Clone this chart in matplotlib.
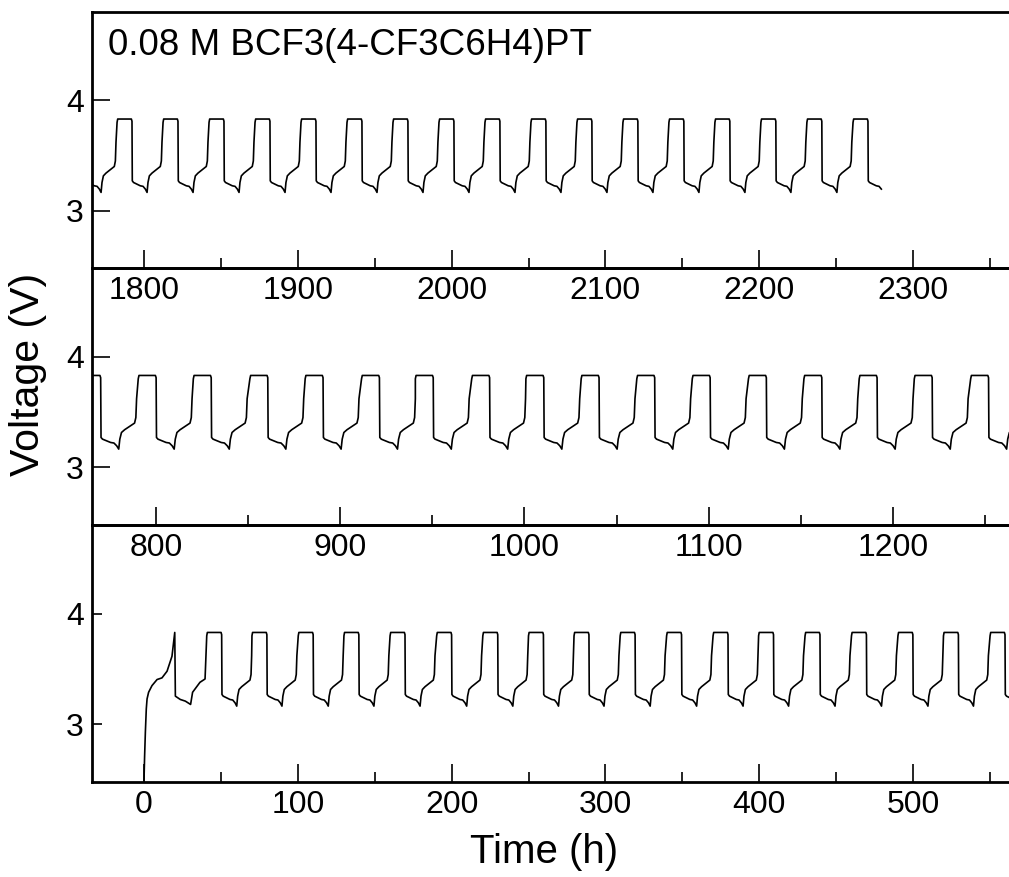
import matplotlib.pyplot as plt
import numpy as np
from matplotlib.ticker import MultipleLocator

plt.rcParams['font.family'] = ['Liberation Sans', 'DejaVu Sans']

# one charge/discharge cycle, hours after the voltage reaches the ~3.8 V plateau
cycle_dt = [0.0, 0.4, 9.3, 9.7, 9.9, 10.7, 12.9, 15.1, 16.9, 18.4, 19.5,
            20.1, 21.0, 22.7, 26.0, 28.1, 28.8, 29.2]
cycle_v = [3.80, 3.83, 3.83, 3.81, 3.27, 3.255, 3.24, 3.225, 3.22, 3.195, 3.165,
           3.255, 3.315, 3.34, 3.376, 3.40, 3.45, 3.62]

# first charge from 0 h (bottom panel)
first_t = [0.0, 0.4, 0.9, 1.5, 2.0, 3.0, 5.2, 8.5, 11.7, 15.0, 18.2, 20.0,
           20.4, 23.6, 26.9, 30.3, 31.6, 36.4, 39.7]
first_v = [2.49, 2.71, 2.93, 3.14, 3.23, 3.29, 3.35, 3.405, 3.42, 3.48, 3.615, 3.83,
           3.255, 3.225, 3.21, 3.18, 3.29, 3.38, 3.41]

# times (h) where each cycle reaches the plateau, per panel
bottom_starts = [40.8, 70.2, 100.3, 130.0, 160.0, 190.3, 220.3, 250.0, 279.6,
                 309.6, 339.8, 370.0, 399.6, 429.8, 460.0, 490.2, 519.8, 550.1]
middle_starts = [760.3, 790.4, 820.3, 851.0, 881.0, 911.6, 940.8, 971.4, 1000.8,
                 1030.8, 1061.0, 1091.1, 1121.6, 1151.7, 1181.7, 1211.6, 1242.2]
top_starts = [1752.6, 1782.5, 1812.4, 1842.3, 1872.2, 1902.1, 1932.0, 1961.9,
              1991.8, 2021.7, 2051.6, 2081.5, 2111.4, 2141.3, 2171.2, 2201.1,
              2231.0, 2261.0]
top_end = 2279.5

bottom_ticks = [0, 100, 200, 300, 400, 500]
middle_ticks = [800, 900, 1000, 1100, 1200]
top_ticks = [1800, 1900, 2000, 2100, 2200, 2300]

title = '0.08 M BCF3(4-CF3C6H4)PT'


def build(starts, head_t=None, head_v=None, end=None):
    t = list(head_t) if head_t else []
    v = list(head_v) if head_v else []
    for s in starts:
        t.extend(s + np.array(cycle_dt))
        v.extend(cycle_v)
    t = np.array(t)
    v = np.array(v)
    if end is not None:
        keep = t <= end
        t, v = t[keep], v[keep]
    return t, v


fig = plt.figure(figsize=(10.09, 8.77), dpi=100)

left = 92 / 1009
width = 1 - left
H = 877
panels = [
    # (top px, bottom px, xlim, ticks, data, ytick length)
    (12, 268, (1766.2, 2362.4), top_ticks, build(top_starts, end=top_end), 13),
    (268, 525, (765.3, 1263.0), middle_ticks, build(middle_starts), 13),
    (525, 782, (-33.8, 562.4), bottom_ticks, build(bottom_starts, first_t, first_v), 7),
]

axes = []
for top_px, bot_px, xlim, ticks, (t, v), ylen in panels:
    ax = fig.add_axes([left, 1 - bot_px / H, width, (bot_px - top_px) / H])
    ax.patch.set_visible(False)
    ax.plot(t, v, color='black', lw=1.2)
    ax.set_xlim(*xlim)
    ax.set_ylim(2.48, 4.8)
    ax.set_xticks(ticks)
    ax.xaxis.set_minor_locator(MultipleLocator(50))
    ax.set_yticks([3, 4])
    ax.tick_params(axis='x', which='major', direction='in', length=13, width=1.2,
                   labelsize=23, pad=6, top=False)
    ax.tick_params(axis='x', which='minor', direction='in', length=7, width=1.2, top=False)
    ax.tick_params(axis='y', which='major', direction='in', length=ylen, width=1.2,
                   labelsize=23, pad=6, right=False)
    for side in ['left', 'top', 'bottom']:
        ax.spines[side].set_linewidth(2.0)
    ax.spines['right'].set_visible(False)
    axes.append(ax)

axes[0].text((108 - 92) / 917, (268 - 55) / 256, title, transform=axes[0].transAxes,
             fontsize=26.5, va='baseline', ha='left')

fig.text(0.0275, 1 - 374 / H, 'Voltage (V)', rotation=90, fontsize=29.5,
         ha='center', va='center')
fig.text(544.5 / 1009, 1 - 863 / H, 'Time (h)', fontsize=29,
         ha='center', va='baseline')

fig.savefig('out.png', dpi=100)
